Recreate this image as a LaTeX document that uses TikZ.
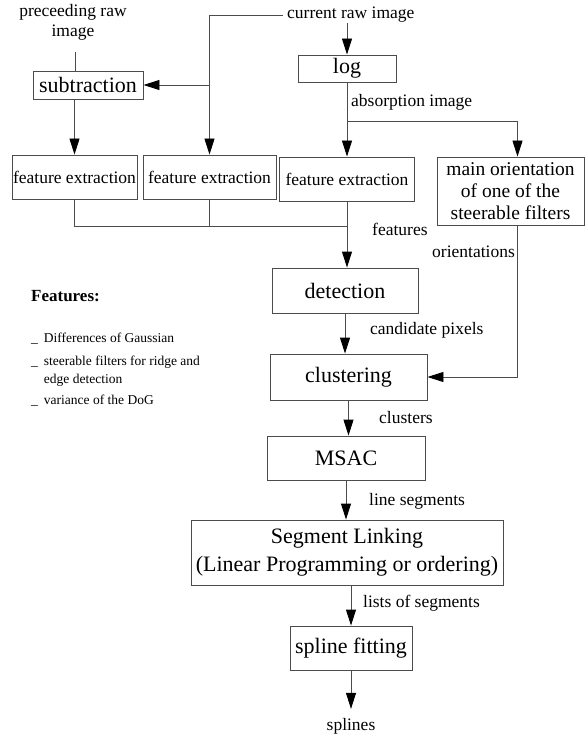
\documentclass[tikz,border=0pt]{standalone}
\usepackage{fontspec}
\setmainfont{Liberation Serif}
\usetikzlibrary{arrows.meta}

\begin{document}
\begin{tikzpicture}[x=1pt,y=-1pt,
    procbox/.style={draw=black!70,line width=0.9pt,inner sep=0pt,align=center},
    bigbox/.style={procbox,font=\fontsize{22}{28}\selectfont},
    febox/.style={procbox,font=\fontsize{17.5}{21.5}\selectfont},
    orbox/.style={procbox,font=\fontsize{19.5}{22}\selectfont},
    lbl/.style={inner sep=0pt,font=\fontsize{17.5}{20}\selectfont},
    wire/.style={draw=black!70,line width=0.9pt},
    arr/.style={wire,-{Triangle[length=16pt,width=10pt,color=black]}}]
        \useasboundingbox (0,0) rectangle (587,738);

        % inputs
        \node[lbl,align=center] (prec) at (73,22) {preceeding raw\\image};
        \node[lbl,anchor=west] (cur) at (287,15) {current raw image};

        % boxes
        \node[bigbox,minimum width=110pt,minimum height=28pt] (sub) at (88,85) {subtraction};
        \node[bigbox,minimum width=98pt,minimum height=27pt] (log) at (347,68.5) {log};
        \node[febox,minimum width=125pt,minimum height=44pt] (fe1) at (74.5,177) {feature extraction};
        \node[febox,minimum width=133pt,minimum height=44pt] (fe2) at (209.5,177) {feature extraction};
        \node[febox,minimum width=135pt,minimum height=44pt] (fe3) at (347,179) {feature extraction};
        \node[orbox,minimum width=147pt,minimum height=68pt] (main) at (510.5,191) {main orientation\\of one of the\\steerable filters};
        \node[bigbox,minimum width=146pt,minimum height=45pt] (det) at (345,290.5) {detection};
        \node[bigbox,minimum width=157pt,minimum height=46pt] (clu) at (348.5,377) {clustering};
        \node[bigbox,minimum width=158pt,minimum height=44pt] (msac) at (346,458) {MSAC};
        \node[bigbox,minimum width=312pt,minimum height=65pt] (link) at (347,552.5) {Segment Linking\\(Linear Programming or ordering)};
        \node[bigbox,minimum width=122pt,minimum height=44pt] (spl) at (351,648) {spline fitting};
        \node[lbl] (splines) at (351,726) {splines};

        % labels on the connectors
        \node[lbl,anchor=west] (absorb) at (351,102) {absorption image};
        \node[lbl,anchor=west] (feat) at (372,229) {features};
        \node[lbl,anchor=east] (orient) at (515,252) {orientations};
        \node[lbl,anchor=west] (cand) at (370,330) {candidate pixels};
        \node[lbl,anchor=west] (clus) at (379,418) {clusters};
        \node[lbl,anchor=west] (lseg) at (369,501) {line segments};
        \node[lbl,anchor=west] (lists) at (363,603) {lists of segments};

        % feature list
        \node[inner sep=0pt,anchor=base west,font=\fontsize{17}{20}\selectfont\bfseries] (fhead) at (31,301) {Features:};
        \node[inner sep=0pt,anchor=base west,font=\fontsize{13.5}{18}\selectfont] (flist) at (31,342)
            {\begin{tabular}[t]{@{}l@{\hspace{6pt}}l@{}}
             \_ & Differences of Gaussian\\[5.5pt]
             \_ & steerable filters for ridge and\\
                & edge detection\\[3pt]
             \_ & variance of the DoG
             \end{tabular}};

        % connectors
        \coordinate (precfoot) at (75,52);
        \draw[wire] (precfoot) -- (precfoot |- sub.north);
        \draw[arr] (fe1.north |- sub.south) -- (fe1.north);
        \draw[arr] ([xshift=-4pt]cur.west) -| (fe2.north);
        \draw[arr] (fe2.north |- sub.east) -- (sub.east);
        \draw[arr] (cur.south -| log.north) -- (log.north);
        \draw[arr] (log.south) -- (fe3.north);
        \path (log.south) ++(0,39) coordinate (split);
        \draw[arr] (split) -| ([xshift=7pt]main.north);
        \coordinate (merge) at (fe3.south |- 0,226);
        \draw[wire] (fe1.south) |- (merge);
        \draw[wire] (fe2.south) -- (fe2.south |- merge);
        \draw[arr] (fe3.south) -- (fe3.south |- det.north);
        \draw[arr] ([xshift=7pt]main.south) |- (clu.east);
        \draw[arr] (det.south) -- (det.south |- clu.north);
        \draw[arr] (clu.south) -- (clu.south |- msac.north);
        \draw[arr] (msac.south) -- (msac.south |- link.north);
        \draw[arr] (spl.north |- link.south) -- (spl.north);
        \draw[arr] (spl.south) -- ([yshift=9pt]splines.north);
\end{tikzpicture}
\end{document}
